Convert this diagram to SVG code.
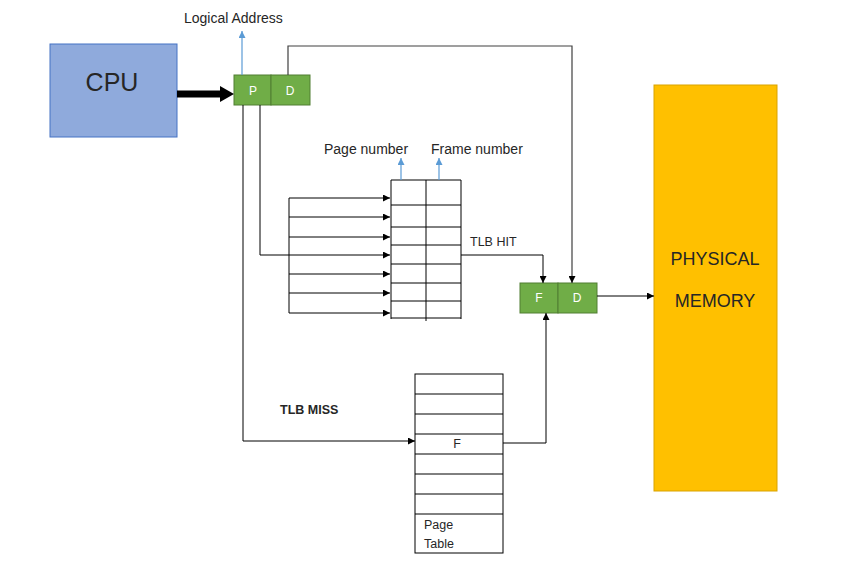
<svg xmlns="http://www.w3.org/2000/svg" width="841" height="567" viewBox="0 0 841 567">
<defs>
<marker id="ah" viewBox="0 0 10 10" refX="10" refY="5" markerWidth="7" markerHeight="7" markerUnits="userSpaceOnUse" orient="auto"><path d="M0,0 L10,5 L0,10 z" fill="#000"/></marker>
<marker id="bh" viewBox="0 0 10 10" refX="10" refY="5" markerWidth="7" markerHeight="7" markerUnits="userSpaceOnUse" orient="auto"><path d="M0,0 L10,5 L0,10 z" fill="#5B9BD5"/></marker>
<style>
.t{font-family:"Liberation Sans",Arial,sans-serif;fill:#262626}
.w{font-family:"Liberation Sans",Arial,sans-serif;fill:#fff;font-size:12px;text-anchor:middle}
.g{fill:#70AD47;stroke:#507E32;stroke-width:1}
.ln{fill:none;stroke:#000;stroke-width:1}
.gl{fill:none;stroke:#404040;stroke-width:1.2}
.bl{fill:none;stroke:#5B9BD5;stroke-width:1.2}
.tb{fill:#fff;stroke:#000;stroke-width:1}
</style>
</defs>
<rect width="841" height="567" fill="#fff"/>
<g id="cpu"><rect x="50" y="44" width="127" height="93" fill="#8FAADC" stroke="#4472C4" stroke-width="1"/><text x="112" y="91" class="t" font-size="25" text-anchor="middle" fill="#000">CPU</text></g>
<g id="logical"><rect x="234" y="75" width="37" height="30" class="g"/><rect x="271" y="75" width="39" height="30" class="g"/><text x="253" y="95" class="w">P</text><text x="290" y="95" class="w">D</text></g>
<g id="labels">
<text x="184" y="23" class="t" font-size="14">Logical Address</text>
<text x="324" y="154" class="t" font-size="14">Page number</text>
<text x="431" y="154" class="t" font-size="14">Frame number</text>
<text x="470" y="246" class="t" font-size="12.5">TLB HIT</text>
<text x="280" y="414" class="t" font-size="12.5" font-weight="bold" fill="#000">TLB MISS</text>
</g>
<g id="tlb">
<rect x="391" y="180" width="70" height="139" fill="#fff" stroke="none"/>
<path class="ln" d="M391,180 H461 M391,205 H461 M391,227 H461 M391,245 H461 M391,264 H461 M391,283 H461 M391,301 H461 M391,318 H461 M391,180 V319 M461,180 V319 M426,180 V321"/>
</g>
<g id="physical"><rect x="654" y="85" width="123" height="406" fill="#FFC000" stroke="#D9A300" stroke-width="1"/><text x="715" y="265" class="t" font-size="18" text-anchor="middle" fill="#1a1a1a">PHYSICAL</text><text x="715" y="307" class="t" font-size="18" text-anchor="middle" fill="#1a1a1a">MEMORY</text></g>
<g id="physaddr"><rect x="520" y="283" width="38" height="30" class="g"/><rect x="558" y="283" width="39" height="30" class="g"/><text x="539" y="302" class="w">F</text><text x="577" y="302" class="w">D</text></g>
<g id="pagetable">
<rect x="415" y="374" width="88" height="179" class="tb"/>
<path class="ln" d="M415,394 H503 M415,414 H503 M415,434 H503 M415,454 H503 M415,474 H503 M415,494 H503 M415,514 H503"/>
<text x="457" y="448" class="t" font-size="12.5" text-anchor="middle" fill="#000">F</text>
<text x="424" y="529" class="t" font-size="12.5" fill="#000">Page</text>
<text x="424" y="548" class="t" font-size="12.5" fill="#000">Table</text>
</g>
<g id="connectors">
<line x1="177" y1="94" x2="222" y2="94" stroke="#000" stroke-width="7"/>
<path d="M220,86 L234,94 L220,102 z" fill="#000"/>
<path class="bl" d="M242,75 V31" marker-end="url(#bh)"/>
<path class="bl" d="M439,180 V158" marker-end="url(#bh)"/>
<path class="bl" d="M401,180 V158" marker-end="url(#bh)"/>
<path class="gl" d="M288,75 V46 H572 V283" marker-end="url(#ah)"/>
<path class="ln" d="M260,105 V255 H390" marker-end="url(#ah)"/>
<path class="ln" d="M243,105 V441 H415" marker-end="url(#ah)"/>
<path class="ln" d="M289,198 V313"/>
<path class="ln" d="M289,198 H390" marker-end="url(#ah)"/>
<path class="ln" d="M289,217 H390" marker-end="url(#ah)"/>
<path class="ln" d="M289,237 H390" marker-end="url(#ah)"/>
<path class="ln" d="M289,274 H390" marker-end="url(#ah)"/>
<path class="ln" d="M289,293 H390" marker-end="url(#ah)"/>
<path class="ln" d="M289,313 H390" marker-end="url(#ah)"/>
<path class="ln" d="M461,255 H543 V283" marker-end="url(#ah)"/>
<path class="ln" d="M503,443 H546 V313" marker-end="url(#ah)"/>
<path class="ln" d="M597,296 H654" marker-end="url(#ah)"/>
</g>
</svg>
